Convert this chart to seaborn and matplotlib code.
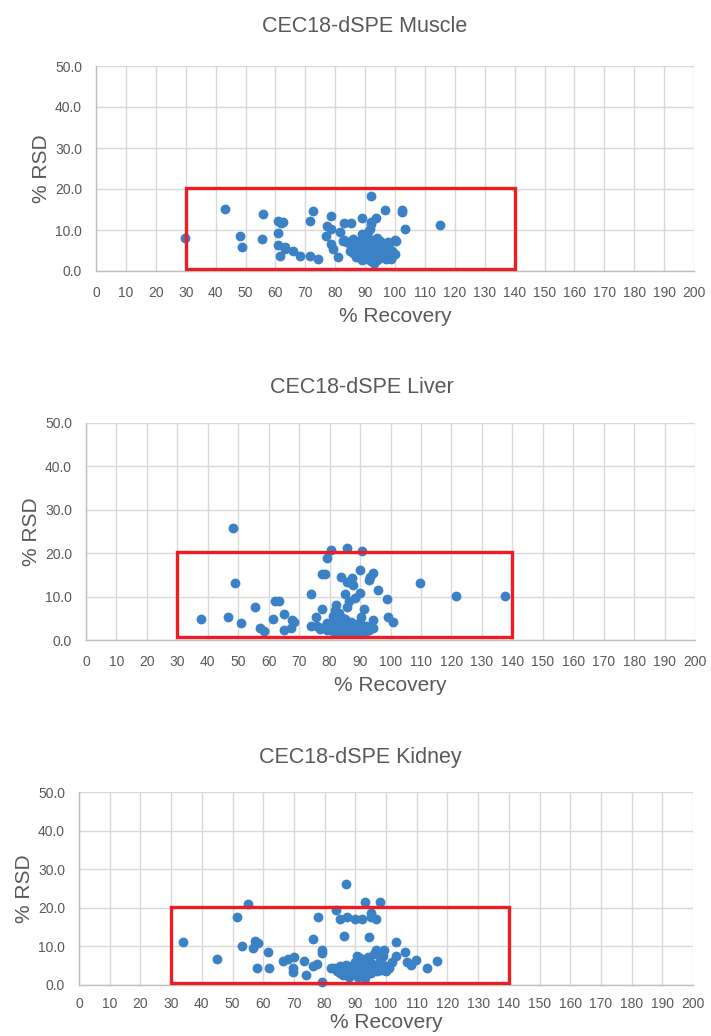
import matplotlib
matplotlib.use("Agg")
import matplotlib.pyplot as plt
import seaborn as sns
import pandas as pd
from matplotlib.patches import Rectangle

# ---------------- data ----------------
titles = ["CEC18-dSPE Muscle", "CEC18-dSPE Liver", "CEC18-dSPE Kidney"]

muscle_recovery = [29.9, 43.2, 48.2, 48.8, 55.9, 55.4, 60.9, 62.0, 60.9, 60.9, 63.1, 61.4,
                   62.5, 72.6, 71.5, 78.5, 77.1, 78.7, 76.8, 81.7, 83.0, 85.4, 88.9, 91.9,
                   92.1, 93.8, 96.8, 102.4, 102.4, 103.5, 115.0, 63.1, 65.9, 68.3, 71.5, 74.2,
                   81.0, 78.7, 79.3, 82.6, 86.0, 88.8, 91.6, 92.1, 94.9, 97.7, 100.5, 87.1,
                   89.9, 93.0, 98.8,
                   84, 85, 86, 87, 88, 88, 89, 89, 90, 90, 90, 91, 91, 91, 91, 92, 92, 92, 92,
                   93, 93, 93, 93, 94, 94, 94, 95, 95, 95, 96, 96, 96, 97, 97, 98, 98, 99, 99,
                   100, 100, 89, 87, 86, 85, 83]
muscle_rsd = [8.0, 15.2, 8.6, 5.9, 14.0, 7.7, 12.1, 11.6, 9.2, 6.3, 5.4, 3.7,
              11.9, 14.7, 12.1, 13.5, 10.9, 10.2, 8.6, 9.4, 11.7, 11.7, 12.9, 18.4,
              11.9, 12.9, 14.8, 14.8, 14.3, 10.2, 11.2, 5.8, 5.0, 3.6, 3.6, 2.9,
              3.3, 6.6, 5.4, 7.4, 7.4, 9.0, 10.2, 11.5, 7.4, 7.0, 7.4, 4.1,
              4.6, 2.0, 2.9,
              7.0, 6.5, 7.8, 6.0, 5.2, 7.2, 4.5, 6.8, 3.8, 5.5, 8.5, 3.0, 4.8, 6.2, 9.5,
              2.5, 4.0, 5.8, 7.5, 2.0, 3.5, 5.0, 6.5, 2.8, 4.2, 8.0, 3.2, 5.5, 7.0, 3.8,
              4.6, 6.0, 3.0, 5.2, 4.0, 6.5, 3.5, 5.0, 4.2, 7.5, 2.8, 3.5, 4.5, 5.0, 7.5]

liver_recovery = [48.4, 49.0, 37.8, 46.6, 50.8, 55.6, 62.1, 61.4, 57.2, 58.5,
                  63.4, 65.0, 67.8, 68.3, 65.0, 67.2, 74.0, 73.8, 75.4, 77.6, 77.6, 78.6,
                  79.2, 80.5, 85.7, 90.6, 83.6, 85.7, 87.4, 87.6, 89.9, 92.8, 94.2, 93.4,
                  95.8, 98.8, 85.2, 89.9, 88.2, 86.5, 85.7, 82.1, 81.9, 91.2, 90.4, 99.3,
                  100.7, 94.2, 94.2, 91.7, 109.7, 121.5, 137.5,
                  76, 77, 78, 79, 79, 80, 80, 81, 81, 82, 82, 83, 83, 83, 84, 84, 84, 85,
                  85, 85, 85, 86, 86, 86, 87, 87, 87, 88, 88, 88, 89, 89, 89, 90, 90, 91,
                  92, 93, 81, 83, 84]
liver_rsd = [25.8, 13.2, 4.8, 5.2, 3.9, 7.7, 9.1, 4.8, 2.8, 2.1,
             8.9, 6.0, 4.6, 4.2, 2.3, 2.7, 10.6, 3.2, 5.4, 7.1, 15.2, 15.2,
             19.0, 20.8, 21.2, 20.4, 14.5, 13.3, 14.4, 12.7, 16.2, 13.9, 15.4, 14.5,
             11.5, 9.5, 10.6, 10.8, 9.6, 9.1, 7.7, 8.1, 6.9, 7.1, 5.4, 5.4,
             4.2, 4.5, 2.7, 1.9, 13.2, 10.2, 10.2,
             3.2, 2.5, 3.0, 2.2, 4.0, 2.8, 3.5, 2.0, 4.5, 2.5, 3.2, 1.8, 3.8, 2.8, 2.2,
             4.0, 3.0, 1.5, 2.5, 3.5, 4.8, 2.0, 3.2, 1.8, 2.6, 4.2, 1.5, 2.2, 3.0, 1.8,
             2.8, 3.8, 1.6, 2.4, 4.0, 2.0, 3.2, 2.4, 5.5, 6.2, 5.0]

kidney_recovery = [33.9, 45.0, 51.5, 55.0, 53.2, 57.4, 58.2, 56.6, 61.5, 57.9, 62.0,
                   66.6, 68.2, 70.1, 69.8, 69.8, 73.4, 73.9, 76.3, 77.4, 79.0, 79.0, 79.0,
                   77.9, 76.3, 86.9, 83.8, 84.9, 87.4, 89.8, 92.1, 93.2, 98.1, 95.1, 95.1,
                   96.8, 86.2, 94.4, 82.2, 90.5, 91.4, 103.2, 103.2, 106.1, 106.8, 108.1,
                   109.7, 113.3, 116.7, 99.5, 96.8,
                   83, 84, 85, 85, 86, 86, 87, 87, 88, 88, 89, 89, 90, 90, 91, 91, 92, 92,
                   93, 93, 94, 94, 95, 95, 96, 96, 97, 97, 98, 98, 99, 99, 100, 100, 101,
                   102, 88, 91, 93]
kidney_rsd = [11.1, 6.7, 17.5, 20.9, 10.0, 11.5, 11.0, 9.5, 8.6, 4.3, 4.3,
              6.3, 6.7, 7.2, 4.3, 3.4, 6.3, 2.6, 4.9, 5.4, 0.7, 9.1, 8.4,
              17.5, 11.9, 26.1, 19.4, 17.0, 17.5, 17.0, 17.0, 21.4, 21.4, 18.6, 17.7,
              17.0, 12.8, 12.4, 4.3, 7.6, 6.9, 11.1, 7.6, 8.6, 6.0, 5.2,
              6.5, 4.3, 6.3, 9.1, 9.1,
              4.5, 3.5, 5.0, 3.0, 4.2, 2.5, 5.2, 3.5, 4.0, 2.8, 5.0, 3.2, 4.5, 6.0, 3.0,
              5.2, 4.0, 2.5, 5.5, 3.5, 4.5, 7.2, 3.0, 5.8, 4.2, 8.0, 3.5, 5.0, 6.2, 4.0,
              3.8, 7.5, 5.0, 3.5, 4.5, 6.0, 2.0, 2.0, 1.8]

x_ticks = list(range(0, 201, 10))
y_ticks = [0, 10, 20, 30, 40, 50]
y_tick_labels = ["0.0", "10.0", "20.0", "30.0", "40.0", "50.0"]

# acceptance box (30-140 % recovery, RSD <= 20)
box_x = [30, 140]
box_y = [0.6, 20.2]

# ---------------- styling ----------------
sns.set_style("white")
plt.rcParams['font.family'] = ['Liberation Sans', 'DejaVu Sans']

BLUE = "#3a82c5"
GRID = "#d9d9d9"
TEXT = "#595959"
RED = "#ee1c25"

fig = plt.figure(figsize=(7.11, 10.36), dpi=100)

W, H = 711, 1036
px_boxes = [(96, 694, 66, 271), (86, 695, 423, 640), (79, 693, 792, 985)]
title_pos = [(365, 27), (362, 388), (360, 757)]
xtick_pad = [11, 11, 9]
xlabel_pad = [5, 5, 1]

datasets = [(muscle_recovery, muscle_rsd), (liver_recovery, liver_rsd),
            (kidney_recovery, kidney_rsd)]

for i, ((x0, x1, y0, y1), (rec, rsd)) in enumerate(zip(px_boxes, datasets)):
    ax = fig.add_axes([x0 / W, 1 - y1 / H, (x1 - x0) / W, (y1 - y0) / H])
    df = pd.DataFrame({"rec": rec, "rsd": rsd})
    sns.scatterplot(data=df, x="rec", y="rsd", ax=ax, color=BLUE, s=50,
                    edgecolor=BLUE, linewidth=0, zorder=3, clip_on=False)
    ax.set_xlim(0, 200)
    ax.set_ylim(0, 50)
    ax.set_xticks(x_ticks)
    ax.set_xticklabels([str(t) for t in x_ticks], fontsize=10, color=TEXT)
    ax.set_yticks(y_ticks)
    ax.set_yticklabels(y_tick_labels, fontsize=10, color=TEXT)
    ax.grid(True, color=GRID, linewidth=1.0, zorder=0)
    ax.set_axisbelow(True)
    for side in ["top", "right"]:
        ax.spines[side].set_visible(False)
    for side in ["left", "bottom"]:
        ax.spines[side].set_color("#bfbfbf")
        ax.spines[side].set_linewidth(1.0)
    ax.tick_params(axis="x", length=0, pad=xtick_pad[i])
    ax.tick_params(axis="y", length=0, pad=10)
    ax.set_xlabel("% Recovery", fontsize=15, color=TEXT, labelpad=xlabel_pad[i])
    ax.set_ylabel("% RSD", fontsize=15, color=TEXT, labelpad=3)
    rect = Rectangle((box_x[0], box_y[0]), box_x[1] - box_x[0], box_y[1] - box_y[0],
                     fill=False, edgecolor=RED, linewidth=2.4, zorder=4)
    ax.add_patch(rect)
    tx, ty = title_pos[i]
    fig.text(tx / W, 1 - ty / H, titles[i],
             ha="center", va="center", fontsize=15.5, color=TEXT)

fig.savefig("out.png", dpi=100)
